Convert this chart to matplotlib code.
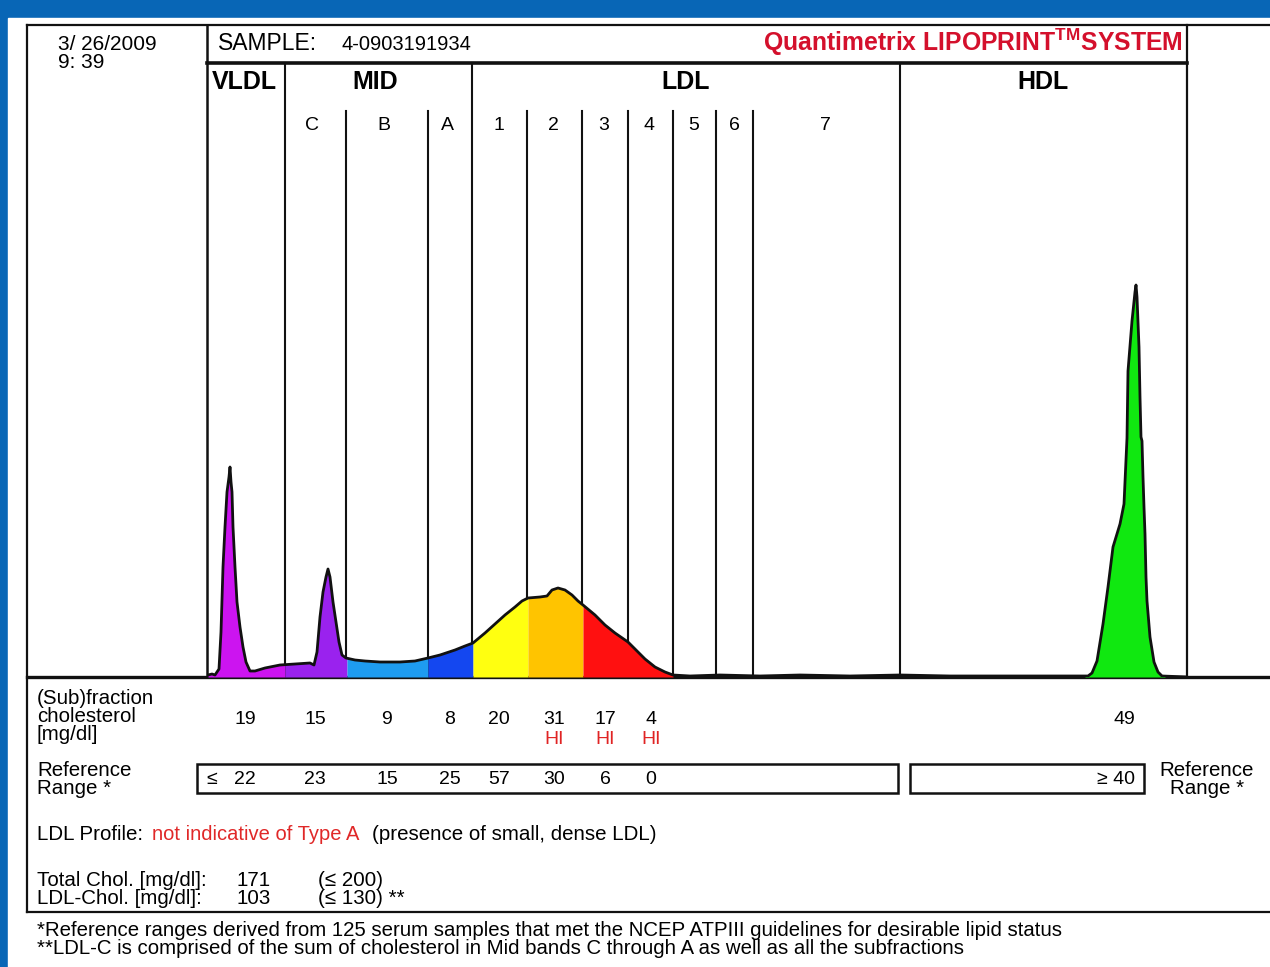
import matplotlib.pyplot as plt
import numpy as np

plt.rcParams['font.family'] = ['Liberation Sans', 'DejaVu Sans']
plt.rcParams['mathtext.fontset'] = 'custom'
plt.rcParams['mathtext.rm'] = 'Liberation Sans:bold'

# densitometry scan, x = migration position, h = relative height
scan_x = [208, 212, 215, 219, 221, 223, 225, 227, 229, 230, 231, 232, 233, 235, 237, 240,
          243, 246, 250, 255, 265, 280, 295, 310, 314, 317, 320, 323, 326, 328, 330, 333,
          336, 339, 342, 346, 355, 365, 380, 400, 415, 428, 440, 455, 465, 473, 485, 495,
          505, 515, 522, 528, 540, 547, 552, 558, 565, 572, 578, 583, 595, 605, 615, 628,
          635, 645, 655, 665, 673, 690, 720, 760, 800, 850, 900, 950, 1000, 1050, 1085,
          1088, 1092, 1097, 1103, 1108, 1113, 1120, 1124, 1127, 1128, 1132, 1135, 1136,
          1137, 1139, 1140, 1141, 1142, 1143, 1144, 1145, 1146, 1147, 1150, 1154, 1158,
          1162, 1188]
scan_h = [2, 3, 2, 8, 45, 110, 150, 185, 200, 210, 195, 185, 150, 110, 75, 50,
          30, 15, 6, 6, 9, 12, 13, 14, 12, 25, 60, 85, 100, 108, 100, 75,
          55, 35, 22, 19, 17, 16, 15, 15, 16, 19, 22, 27, 31, 34, 44, 53,
          62, 70, 76, 79, 80, 81, 87, 89, 87, 82, 76, 72, 62, 52, 44, 35,
          28, 18, 10, 5, 2, 1, 2, 1, 2, 1, 2, 1, 1, 1, 1,
          1, 4, 16, 53, 90, 130, 153, 173, 239, 306, 356, 385, 392,
          380, 330, 280, 240, 236, 200, 170, 143, 100, 76, 40, 15, 5,
          1, 0]

# colored fractions (start, end, color)
frac_start = [208, 285, 347, 428, 473, 528, 583, 1085]
frac_end = [285, 347, 428, 473, 528, 583, 673, 1165]
frac_color = ['#CC14F0', '#9A22EE', '#1E9CF0', '#1447F0', '#FFFF10', '#FFC400', '#FF1010', '#10E810']

# band dividers
major_x = [285, 472, 900]
minor_x = [346, 428, 527, 582, 628, 673, 716, 753]
band_names = ['VLDL', 'MID', 'LDL', 'HDL']
band_pos = [244, 375, 686, 1043]
sub_names = ['C', 'B', 'A', '1', '2', '3', '4', '5', '6', '7']
sub_pos = [312, 384, 447, 499, 553, 604, 649, 694, 734, 825]

# table values
val_pos = [245, 315, 387, 450, 499, 554, 605, 651]
chol_vals = ['19', '15', '9', '8', '20', '31', '17', '4']
hi_flag = [False, False, False, False, False, True, True, True]
ref_vals = ['22', '23', '15', '25', '57', '30', '6', '0']
hdl_val = '49'
hdl_ref = '40'

W, H = 1270, 967
fig = plt.figure(figsize=(W / 100, H / 100), dpi=100)
fig.patch.set_facecolor('#0866B6')

fr = fig.add_axes([0, 0, 1, 1])
fr.set_xlim(0, W)
fr.set_ylim(H, 0)
fr.axis('off')
fr.add_patch(plt.Rectangle((8, 18), W - 8, H - 18, color='white', zorder=0))

k = '#111111'
fs = 14.8
# frame lines
fr.plot([27, W], [25, 25], color=k, lw=1.6)
fr.plot([27, 27], [25, 912], color=k, lw=1.6)
fr.plot([27, W], [912, 912], color=k, lw=1.6)
fr.plot([27, W], [677, 677], color=k, lw=2.4, zorder=5)
fr.plot([207, 207], [25, 677], color=k, lw=1.8)
fr.plot([1187, 1187], [25, 677], color=k, lw=1.6)
fr.plot([207, 1187], [63, 63], color=k, lw=2.6)
for x in major_x:
    fr.plot([x, x], [63, 677], color=k, lw=1.5, zorder=4)
for x in minor_x:
    fr.plot([x, x], [111, 677], color=k, lw=1.5, zorder=4)

# header
fr.text(58, 44, '3/ 26/2009', fontsize=15, va='center')
fr.text(58, 62, '9: 39', fontsize=15, va='center')
fr.text(218, 43, 'SAMPLE:', fontsize=16.5, va='center')
fr.text(341, 44, '4-0903191934', fontsize=14.5, va='center')
fr.text(1183, 42, r'Quantimetrix LIPOPRINT$^{\mathrm{TM}}$SYSTEM', fontsize=17.8,
        fontweight='bold', color='#D4102C', ha='right', va='center')
for name, x in zip(band_names, band_pos):
    fr.text(x, 82, name, fontsize=18, fontweight='bold', ha='center', va='center')
for name, x in zip(sub_names, sub_pos):
    fr.text(x, 125, name, fontsize=14, ha='center', va='center')

# curve axes
ax = fig.add_axes([208 / W, 1 - 677 / H, (1187 - 208) / W, (677 - 95) / H])
ax.set_xlim(208, 1187)
ax.set_ylim(0, 677 - 95)
ax.axis('off')
sx = np.array(scan_x, float)
sh = np.array(scan_h, float)
for a, b, c in zip(frac_start, frac_end, frac_color):
    inner = sx[(sx > a) & (sx < b)]
    xs = np.concatenate([[a], inner, [b]])
    ax.fill_between(xs, 0, np.interp(xs, sx, sh), color=c, lw=0, zorder=1)
ax.plot(sx, sh, color=k, lw=2, zorder=3)

# table
fr.text(37, 698, '(Sub)fraction', fontsize=fs, va='center')
fr.text(37, 716, 'cholesterol', fontsize=fs, va='center')
fr.text(37, 735, '[mg/dl]', fontsize=fs, va='center')
for x, v, hi in zip(val_pos, chol_vals, hi_flag):
    fr.text(x, 720, v, fontsize=14, ha='center', va='center')
    if hi:
        fr.text(x, 739, 'HI', fontsize=14, ha='center', va='center', color='#E02424')
fr.text(1124, 720, hdl_val, fontsize=14, ha='center', va='center')

fr.text(37, 771, 'Reference', fontsize=fs, va='center')
fr.text(37, 789, 'Range *', fontsize=fs, va='center')
fr.add_patch(plt.Rectangle((197, 764), 898 - 197, 29, fill=False, ec=k, lw=1.8))
fr.add_patch(plt.Rectangle((910, 764), 1144 - 910, 29, fill=False, ec=k, lw=1.8))
fr.text(212, 779, '≤', fontsize=14, ha='center', va='center')
for x, v in zip(val_pos, ref_vals):
    fr.text(x, 779, v, fontsize=14, ha='center', va='center')
fr.text(1135, 779, '≥ ' + hdl_ref, fontsize=14, ha='right', va='center')
fr.text(1207, 771, 'Reference', fontsize=fs, ha='center', va='center')
fr.text(1207, 789, 'Range *', fontsize=fs, ha='center', va='center')

fr.text(37, 835, 'LDL Profile: ', fontsize=fs, va='center')
fr.text(152, 835, 'not indicative of Type A', fontsize=14.5, va='center', color='#E02828')
fr.text(372, 835, '(presence of small, dense LDL)', fontsize=fs, va='center')

fr.text(37, 880, 'Total Chol. [mg/dl]:', fontsize=fs, va='center')
fr.text(236, 880, '171', fontsize=fs, va='center')
fr.text(318, 880, '(≤ 200)', fontsize=fs, va='center')
fr.text(37, 899, 'LDL-Chol. [mg/dl]:', fontsize=fs, va='center')
fr.text(236, 899, '103', fontsize=fs, va='center')
fr.text(318, 899, '(≤ 130) **', fontsize=fs, va='center')

fr.text(37, 930, '*Reference ranges derived from 125 serum samples that met the NCEP ATPIII guidelines for desirable lipid status',
        fontsize=14.7, va='center')
fr.text(37, 948, '**LDL-C is comprised of the sum of cholesterol in Mid bands C through A as well as all the subfractions',
        fontsize=14.7, va='center')

fig.savefig('out.png', dpi=100, facecolor=fig.get_facecolor())
